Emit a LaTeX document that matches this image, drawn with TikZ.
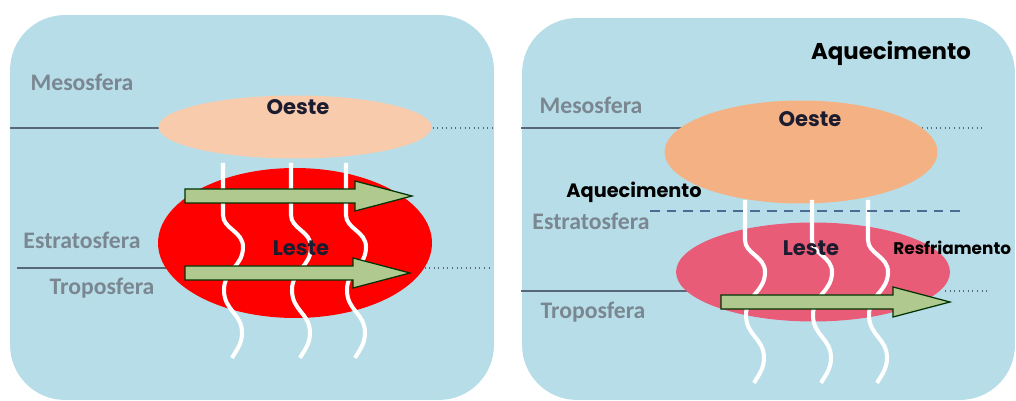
\documentclass[tikz,border=0pt]{standalone}
\usepackage{fontspec}
\setmainfont{Carlito}
\newfontfamily\gothic{Poppins}
\usepackage{xcolor}
\usepackage{tikz}
\usetikzlibrary{shapes.geometric}
\definecolor{skyblue}{HTML}{B7DEE8}
\definecolor{layergray}{HTML}{7A8791}
\definecolor{linegray}{HTML}{56687A}
\definecolor{peach}{HTML}{F8CBAD}
\definecolor{apricot}{HTML}{F4B183}
\definecolor{jetred}{HTML}{FF0000}
\definecolor{jetpink}{HTML}{E95C78}
\definecolor{windgreen}{HTML}{AFC98E}
\definecolor{dashblue}{HTML}{4C6B93}
\definecolor{inkdark}{HTML}{1C1C30}

% white heat waves: x, top, start of the wiggle
\newcommand{\heatwave}[3]{%
  \draw[wave] (#1,#2) -- (#1,#3)
    .. controls (#1,{#3+14}) and ({#1+20},{#3+16}) .. ({#1+20},{#3+32})
    .. controls ({#1+20},{#3+52}) and ({#1+1},{#3+55}) .. ({#1+1},{#3+75})
    .. controls ({#1+1},{#3+96}) and ({#1+19},{#3+98}) .. ({#1+19},{#3+118})
    .. controls ({#1+19},{#3+130}) and ({#1+12},{#3+137}) .. ({#1+9},{#3+143});}
% block arrow: tail x, tip x, y
\newcommand{\windarrow}[3]{%
  \draw[wind] (#1,{#3-7}) -- ({#2-57},{#3-7}) -- ({#2-57},{#3-15}) -- (#2,#3)
    -- ({#2-57},{#3+15}) -- ({#2-57},{#3+7}) -- (#1,{#3+7}) -- cycle;}

\begin{document}
\begin{tikzpicture}[x=0.02cm,y=-0.02cm,
  panel/.style={fill=skyblue,rounded corners=1.1cm,inner sep=0pt},
  jet/.style={ellipse,inner sep=0pt},
  layer/.style={linegray,line width=0.7pt},
  layerdot/.style={linegray,line width=0.6pt,dotted},
  layername/.style={font=\bfseries\fontsize{13.5}{16}\selectfont,text=layergray},
  jetname/.style={font=\gothic\bfseries\fontsize{12}{14}\selectfont,text=inkdark},
  heatname/.style={font=\gothic\bfseries\fontsize{11}{13}\selectfont,text=black},
  wave/.style={white,line width=2.3pt},
  wind/.style={fill=windgreen,draw=black!80!green,line width=0.7pt,line join=miter}]
\useasboundingbox (0,0) rectangle (1016,401);
\node[panel,minimum width=9.68cm,minimum height=7.7cm] (panelA) at (252,207.5) {};
\node[panel,minimum width=9.86cm,minimum height=7.64cm] (panelB) at (768.5,209) {};

% left panel
\draw[layer] (10,128) -- (200,128);
\draw[layerdot] (428,128) -- (494,128);
\draw[layer] (17,268) -- (200,268);
\draw[layerdot] (420,268) -- (493,268);
\node[jet,fill=peach,minimum width=5.46cm,minimum height=1.26cm] (oesteA) at (295,127) {};
\node[jet,fill=jetred,minimum width=5.48cm,minimum height=3cm] (lesteA) at (295,243) {};
\heatwave{223}{163}{215}
\heatwave{291}{163}{215}
\heatwave{346}{163}{215}
\windarrow{185}{412}{196}
\windarrow{185}{410}{273}
\node[layername] (mesoA) at (82,82) {Mesosfera};
\node[layername] (estratoA) at (82,240) {Estratosfera};
\node[layername] (tropoA) at (102,288) {Troposfera};
\node[jetname] (oesteAname) at (298,107) {Oeste};
\node[jetname] (lesteAname) at (301,248) {Leste};

% right panel
\draw[layer] (521,128) -- (700,128);
\draw[layerdot] (922,128) -- (985,128);
\draw[layer] (521,291) -- (700,291);
\draw[layerdot] (945,291) -- (988,291);
\node[jet,fill=apricot,minimum width=5.46cm,minimum height=2.06cm] (oesteB) at (801,152) {};
\node[jet,fill=jetpink,minimum width=5.48cm,minimum height=1.98cm] (lesteB) at (813,272) {};
\heatwave{745}{200}{240}
\heatwave{812}{200}{240}
\heatwave{868}{200}{240}
\windarrow{721}{950}{302}
\draw[dashblue,line width=1.6pt,dash pattern=on 5.5pt off 4pt] (650,211) -- (965,211);
\node[layername] (mesoB) at (591,105) {Mesosfera};
\node[layername] (estratoB) at (591,221) {Estratosfera};
\node[layername] (tropoB) at (593,312) {Troposfera};
\node[jetname] (oesteBname) at (810,119) {Oeste};
\node[jetname] (lesteBname) at (811,248) {Leste};
\node[heatname,font=\gothic\bfseries\fontsize{13}{15}\selectfont] (aquecTop) at (891,53) {Aquecimento};
\node[heatname] (aquecMid) at (634,192) {Aquecimento};
\node[heatname,font=\gothic\bfseries\fontsize{9.6}{12}\selectfont,anchor=west,inner sep=0pt] (resfria) at (893,248) {Resfriamento};
\end{tikzpicture}
\end{document}
